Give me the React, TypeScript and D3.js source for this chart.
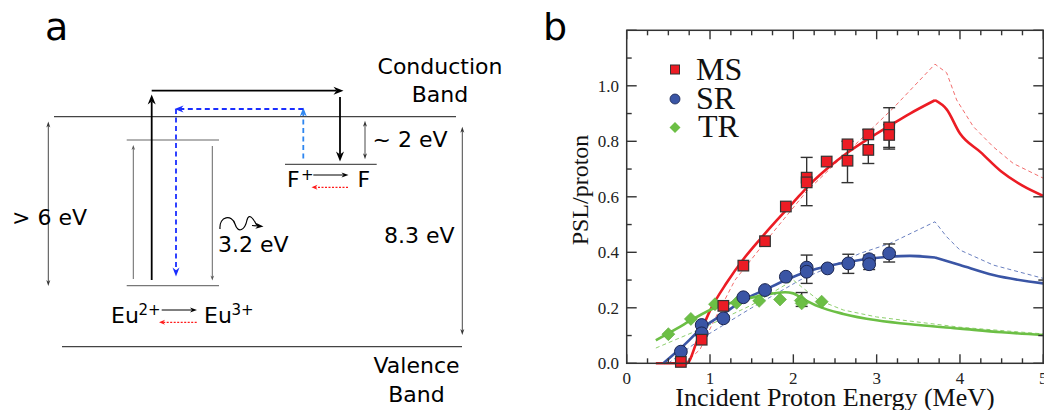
import React from "react";
import * as d3 from "d3";

// ---------- Panel b data ----------
const X_TICKS = [0, 1, 2, 3, 4, 5];
const Y_TICKS = [0, 0.2, 0.4, 0.6, 0.8, 1.0];
const X_LABEL = "Incident Proton Energy (MeV)";
const Y_LABEL = "PSL/proton";
const SERIES_NAMES = ["MS", "SR", "TR"];

const msE = [0.65, 0.9, 1.16, 1.4, 1.66, 1.91, 2.16, 2.16, 2.4, 2.65, 2.65, 2.9, 2.9, 3.15, 3.15];
const msV = [0.005, 0.085, 0.207, 0.352, 0.44, 0.565, 0.669, 0.652, 0.727, 0.789, 0.73, 0.825, 0.769, 0.85, 0.823];
const srE = [0.65, 0.9, 0.9, 1.16, 1.4, 1.66, 1.91, 2.16, 2.16, 2.41, 2.66, 2.91, 2.91, 3.15];
const srV = [0.042, 0.138, 0.108, 0.162, 0.238, 0.264, 0.312, 0.345, 0.33, 0.342, 0.36, 0.375, 0.357, 0.396];
const trE = [0.5, 0.77, 1.06, 1.32, 1.59, 1.84, 2.09, 2.1, 2.34];
const trV = [0.105, 0.16, 0.213, 0.218, 0.225, 0.23, 0.226, 0.216, 0.222];

// error bars: [E, low, high]
const msErr = [[2.16, 0.568, 0.742], [2.65, 0.651, 0.8], [2.9, 0.72, 0.842], [3.15, 0.772, 0.921], [3.15, 0.778, 0.86]];
const srErr = [[2.16, 0.288, 0.39], [2.66, 0.324, 0.393], [2.91, 0.338, 0.39], [3.15, 0.365, 0.43]];
const trErr = [[2.1, 0.205, 0.255]];

// model curves (solid), split at kink
const msFitA = [[0.35, 0], [0.72, 0], [0.85, 0.085], [1.0, 0.19], [1.2, 0.29], [1.4, 0.375], [1.6, 0.447], [1.8, 0.515], [2.0, 0.58], [2.2, 0.645], [2.4, 0.7], [2.64, 0.757], [2.88, 0.805], [3.15, 0.855], [3.4, 0.9], [3.7, 0.948]];
const msFitB = [[3.7, 0.948], [3.84, 0.915], [4.0, 0.828], [4.25, 0.76], [4.5, 0.69], [4.75, 0.64], [5.0, 0.603]];
const srFitA = [[0.44, 0], [0.65, 0.055], [0.9, 0.125], [1.16, 0.178], [1.4, 0.228], [1.66, 0.265], [1.91, 0.3], [2.16, 0.33], [2.4, 0.35], [2.66, 0.365], [2.9, 0.377], [3.15, 0.384], [3.4, 0.387], [3.7, 0.381]];
const srFitB = [[3.7, 0.381], [4.0, 0.354], [4.4, 0.318], [5.0, 0.288]];
const trFit = [[0.35, 0.083], [0.6, 0.125], [0.8, 0.16], [1.06, 0.2], [1.3, 0.222], [1.6, 0.243], [1.9, 0.256], [2.0, 0.252], [2.1, 0.235], [2.3, 0.205], [2.6, 0.178], [3.0, 0.155], [3.5, 0.138], [4.0, 0.125], [4.5, 0.112], [5.0, 0.102]];

// model curves (dashed)
const msDash = [[0.7, 0], [0.88, 0.05], [1.05, 0.155], [1.3, 0.3], [1.68, 0.444], [2.16, 0.62], [2.68, 0.77], [3.2, 0.92], [3.7, 1.078], [3.84, 1.047], [3.96, 0.949], [4.16, 0.853], [4.4, 0.78], [4.64, 0.72], [5.0, 0.667]];
const srDash = [[0.5, 0.0], [0.9, 0.09], [1.5, 0.2], [2.08, 0.3], [2.8, 0.396], [3.16, 0.432], [3.7, 0.51], [3.84, 0.456], [4.0, 0.408], [4.4, 0.354], [5.0, 0.306]];
const trDash = [[0.35, 0.055], [0.9, 0.125], [1.5, 0.21], [2.0, 0.3], [2.1, 0.275], [2.3, 0.228], [2.6, 0.192], [3.0, 0.167], [4.0, 0.13], [5.0, 0.106]];

// ---------- colours ----------
const RED = "#ec1c24";
const BLUE = "#3a55a5";
const GREEN = "#6cbf45";

const SERIF = "'Liberation Serif', 'Times New Roman', serif";
const SANS = "'DejaVu Sans', sans-serif";

// ---------- helpers ----------
function Arrow({ x1, y1, x2, y2, color = "#000", w = 1, head = 8, hw = 3.5, dash, both = false }: any) {
  const dx = x2 - x1, dy = y2 - y1;
  const len = Math.hypot(dx, dy);
  const ux = dx / len, uy = dy / len;
  const px = -uy, py = ux;
  const headPoly = (tx: number, ty: number, sx: number, sy: number) => {
    const bx = tx - sx * head, by = ty - sy * head;
    const mx = tx - sx * head * 0.7, my = ty - sy * head * 0.7;
    return `${tx},${ty} ${bx + px * hw},${by + py * hw} ${mx},${my} ${bx - px * hw},${by - py * hw}`;
  };
  const ex = x2 - ux * head * 0.7, ey = y2 - uy * head * 0.7;
  const sx0 = both ? x1 + ux * head * 0.7 : x1, sy0 = both ? y1 + uy * head * 0.7 : y1;
  return (
    <g>
      <line x1={sx0} y1={sy0} x2={ex} y2={ey} stroke={color} strokeWidth={w} strokeDasharray={dash} />
      <polygon points={headPoly(x2, y2, ux, uy)} fill={color} />
      {both && <polygon points={headPoly(x1, y1, -ux, -uy)} fill={color} />}
    </g>
  );
}

function PanelA() {
  const fs = 22;
  return (
    <g fontFamily={SANS} fill="#000">
      <text x={45} y={40} fontSize={38}>a</text>
      {/* band lines */}
      <line x1={54} y1={116.7} x2={456} y2={116.7} stroke="#444" strokeWidth={1.2} />
      <line x1={62} y1={346.7} x2={462} y2={346.7} stroke="#444" strokeWidth={1.2} />
      <text x={440} y={74} fontSize={fs} textAnchor="middle">Conduction</text>
      <text x={440} y={102} fontSize={fs} textAnchor="middle">Band</text>
      <text x={416.5} y={373} fontSize={fs} textAnchor="middle">Valence</text>
      <text x={416.5} y={401.5} fontSize={fs} textAnchor="middle">Band</text>

      {/* > 6 eV */}
      <Arrow x1={48.3} y1={121.5} x2={48.3} y2={286} color="#333" w={0.9} head={6} hw={2} both />
      <text x={12} y={225} fontSize={fs}>&gt; 6 eV</text>

      {/* Eu levels */}
      <line x1={126.7} y1={140} x2={219} y2={140} stroke="#999" strokeWidth={1.5} />
      <line x1={126.7} y1={285.7} x2={219} y2={285.7} stroke="#777" strokeWidth={1.3} />
      <Arrow x1={133.3} y1={279} x2={133.3} y2={145} color="#555" w={0.9} head={5} hw={1.8} />
      <Arrow x1={212.3} y1={146} x2={212.3} y2={280.5} color="#555" w={0.9} head={5} hw={1.8} />

      {/* black path */}
      <Arrow x1={151.7} y1={280} x2={151.7} y2={94.5} color="#000" w={1.8} head={10} hw={4} />
      <Arrow x1={151.7} y1={90.7} x2={343.5} y2={90.7} color="#000" w={1.8} head={10} hw={4} />
      <Arrow x1={340} y1={97} x2={340} y2={161.5} color="#000" w={1.8} head={10} hw={4} />

      {/* blue dashed path */}
      <Arrow x1={303.3} y1={158.5} x2={303.3} y2={107.5} color="#2e86f0" w={1.8} head={9} hw={3.5} dash="5,3.5" />
      <Arrow x1={303.3} y1={109} x2={174.5} y2={109} color="#1a2eff" w={1.8} head={9} hw={3.5} dash="5,3.5" />
      <Arrow x1={176} y1={109} x2={176} y2={276.5} color="#1a2eff" w={1.8} head={9} hw={3.5} dash="5,3.5" />

      {/* F level */}
      <line x1={285} y1={164.3} x2={376.7} y2={164.3} stroke="#555" strokeWidth={1.2} />
      <Arrow x1={365} y1={120.7} x2={365} y2={159.3} color="#333" w={0.9} head={6} hw={2} both />
      <text x={372.5} y={146.7} fontSize={fs}>~ 2 eV</text>

      {/* 8.3 eV */}
      <Arrow x1={462.3} y1={126.7} x2={462.3} y2={335} color="#333" w={0.9} head={6} hw={2} both />
      <text x={384} y={243.3} fontSize={fs}>8.3 eV</text>

      {/* F+ -> F */}
      <text x={287} y={187.3} fontSize={fs}>F</text>
      <text x={301} y={180} fontSize={15}>+</text>
      <Arrow x1={313.3} y1={175} x2={348.5} y2={175} color="#000" w={1} head={7} hw={2.5} />
      <text x={357.5} y={187.3} fontSize={fs}>F</text>
      <Arrow x1={348} y1={187.3} x2={311.5} y2={187.3} color="#ff1a1a" w={1.2} head={6} hw={2.5} dash="2,1.5" />

      {/* Eu2+ -> Eu3+ */}
      <text x={111} y={322.7} fontSize={fs}>Eu</text>
      <text x={138.5} y={315} fontSize={15}>2+</text>
      <Arrow x1={161.7} y1={310} x2={197} y2={310} color="#000" w={1} head={7} hw={2.5} />
      <text x={204} y={322.7} fontSize={fs}>Eu</text>
      <text x={231.5} y={315} fontSize={15}>3+</text>
      <Arrow x1={196.7} y1={322.3} x2={159} y2={322.3} color="#ff1a1a" w={1.2} head={6} hw={2.5} dash="2,1.5" />

      {/* wavy photon */}
      <path d="M220,229 C219,216 232,214 235,224 C238,234 245,230 247,220 C249,213 253,218 256,224 L258,226" fill="none" stroke="#000" strokeWidth={1.2} />
      <Arrow x1={252} y1={225.5} x2={263.5} y2={226.5} color="#000" w={1.2} head={8} hw={3} />
      <text x={218} y={251.7} fontSize={fs}>3.2 eV</text>
    </g>
  );
}

function PanelB() {
  const x = d3.scaleLinear().domain([0, 5]).range([626.7, 1043.3]);
  const y = d3.scaleLinear().domain([0, 1.2]).range([363.3, 30.3]);
  const smooth = d3.line<number[]>().x((d) => x(d[0])).y((d) => y(d[1])).curve(d3.curveMonotoneX);
  const straight = d3.line<number[]>().x((d) => x(d[0])).y((d) => y(d[1]));
  const x0 = x(0), x1 = x(5), y0 = y(0), y1 = y(1.2);
  const axisColor = "#333";

  const minorX = d3.range(0, 5.001, 0.25);
  const minorY = d3.range(0, 1.201, 0.1);
  const isMajor = (v: number, step: number) => Math.abs(v / step - Math.round(v / step)) < 1e-6;

  const ms = msE.map((e, i) => [e, msV[i]]);
  const sr = srE.map((e, i) => [e, srV[i]]);
  const tr = trE.map((e, i) => [e, trV[i]]);

  const errBars = (arr: number[][], key: string) =>
    arr.map((d, i) => (
      <g key={key + i} stroke="#333" strokeWidth={1.4}>
        <line x1={x(d[0])} x2={x(d[0])} y1={y(d[1])} y2={y(d[2])} />
        <line x1={x(d[0]) - 6} x2={x(d[0]) + 6} y1={y(d[1])} y2={y(d[1])} />
        <line x1={x(d[0]) - 6} x2={x(d[0]) + 6} y1={y(d[2])} y2={y(d[2])} />
      </g>
    ));

  const sq = 5.3;
  const dia = 6.5;
  return (
    <g>
      <text x={543} y={40} fontSize={38} fontFamily={SANS}>b</text>

      {/* dashed model lines */}
      <path d={straight(msDash) || ""} fill="none" stroke="#f26d6d" strokeWidth={1} strokeDasharray="4,3" />
      <path d={straight(srDash) || ""} fill="none" stroke="#6a80c0" strokeWidth={1} strokeDasharray="4,3" />
      <path d={straight(trDash) || ""} fill="none" stroke="#8fd06f" strokeWidth={1} strokeDasharray="4,3" />

      {/* solid model lines */}
      <path d={(smooth(msFitA) || "") + (smooth(msFitB) || "")} fill="none" stroke={RED} strokeWidth={2.6} />
      <path d={(smooth(srFitA) || "") + (smooth(srFitB) || "")} fill="none" stroke={BLUE} strokeWidth={2.6} />
      <path d={smooth(trFit) || ""} fill="none" stroke={GREEN} strokeWidth={2.6} />

      {/* error bars */}
      {errBars(msErr, "m")}
      {errBars(srErr, "s")}
      {errBars(trErr, "t")}

      {/* markers */}
      {tr.map((d, i) => (
        <polygon key={"tr" + i}
          points={`${x(d[0])},${y(d[1]) - dia} ${x(d[0]) + dia},${y(d[1])} ${x(d[0])},${y(d[1]) + dia} ${x(d[0]) - dia},${y(d[1])}`}
          fill={GREEN} stroke="#5aa83a" strokeWidth={0.6} />
      ))}
      {sr.map((d, i) => (
        <circle key={"sr" + i} cx={x(d[0])} cy={y(d[1])} r={6.4} fill={BLUE} stroke="#1c2650" strokeWidth={1} />
      ))}
      {ms.map((d, i) => (
        <rect key={"ms" + i} x={x(d[0]) - sq} y={y(d[1]) - sq} width={2 * sq} height={2 * sq} fill={RED} stroke="#333" strokeWidth={1.2} />
      ))}

      {/* frame */}
      <rect x={x0} y={y1} width={x1 - x0} height={y0 - y1} fill="none" stroke={axisColor} strokeWidth={1.5} />
      {minorX.map((v, i) => {
        const L = isMajor(v, 1) ? 9 : 5;
        return (
          <g key={"xt" + i} stroke={axisColor} strokeWidth={1.4}>
            <line x1={x(v)} x2={x(v)} y1={y0} y2={y0 - L} />
            <line x1={x(v)} x2={x(v)} y1={y1} y2={y1 + L} />
          </g>
        );
      })}
      {minorY.map((v, i) => {
        const L = isMajor(v, 0.2) ? 10 : 5;
        return (
          <g key={"yt" + i} stroke={axisColor} strokeWidth={1.4}>
            <line x1={x0} x2={x0 + L} y1={y(v)} y2={y(v)} />
            <line x1={x1} x2={x1 - L} y1={y(v)} y2={y(v)} />
          </g>
        );
      })}
      {X_TICKS.map((t) => (
        <text key={"xl" + t} x={x(t)} y={384} fontSize={17} fontFamily={SERIF} textAnchor="middle" fill="#222">{t}</text>
      ))}
      {Y_TICKS.map((t) => (
        <text key={"yl" + t} x={619} y={y(t) + 6} fontSize={17} fontFamily={SERIF} textAnchor="end" fill="#222">{t.toFixed(1)}</text>
      ))}
      <text x={835} y={406} fontSize={26} fontFamily={SERIF} textAnchor="middle" fill="#111">{X_LABEL}</text>
      <text transform="translate(588,190) rotate(-90)" fontSize={24} fontFamily={SERIF} textAnchor="middle" fill="#111">{Y_LABEL}</text>

      {/* legend */}
      <rect x={670.5} y={65} width={9} height={9} fill={RED} stroke="#333" strokeWidth={1} />
      <circle cx={675} cy={99} r={5} fill={BLUE} stroke="#1c2650" strokeWidth={0.8} />
      <polygon points="675,122 680.5,127.5 675,133 669.5,127.5" fill={GREEN} />
      <text x={696} y={80} fontSize={32} fontFamily={SERIF} fill="#111">{SERIES_NAMES[0]}</text>
      <text x={696} y={108.5} fontSize={32} fontFamily={SERIF} fill="#111">{SERIES_NAMES[1]}</text>
      <text x={698} y={137} fontSize={32} fontFamily={SERIF} fill="#111">{SERIES_NAMES[2]}</text>
    </g>
  );
}

export default function App() {
  return (
    <svg width={1044} height={410} style={{ position: "absolute", left: 0, top: 0, background: "#fff" }}>
      <rect width={1044} height={410} fill="#fff" />
      <PanelA />
      <PanelB />
    </svg>
  );
}
